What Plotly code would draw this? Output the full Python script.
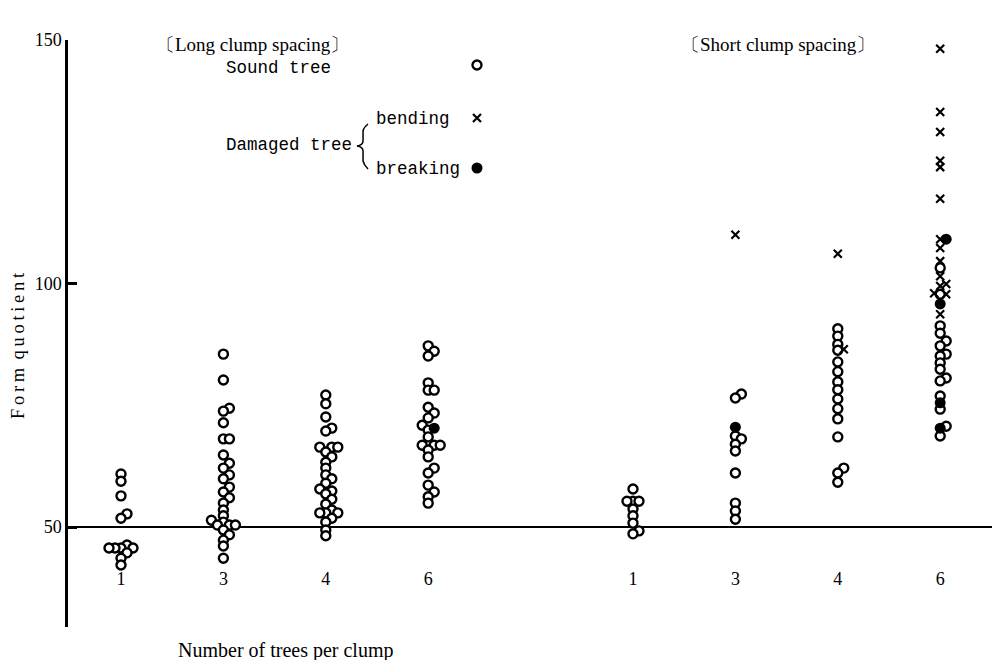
import plotly.graph_objects as go

# ---------------- data: form quotient of trees, by clump size ----------------
clump_sizes = ["1", "3", "4", "6"]
spacing_titles = ["〔Long clump spacing〕", "〔Short clump spacing〕"]

# long clump spacing
long_sound_1 = [60.9, 59.4, 56.4, 52.7, 51.8, 46.3, 45.7, 45.7, 45.7, 45.7, 44.7, 43.6, 42.2]
long_sound_3 = [85.5, 80.2, 74.4, 73.8, 71.4, 68.1, 68.1, 64.8, 63.1, 62.1, 60.7, 59.9, 58.2,
                57.2, 56.0, 54.9, 53.5, 52.3, 51.4, 51.0, 50.4, 50.4, 50.4, 49.4, 48.4, 47.3,
                46.1, 43.6]
long_sound_4 = [77.1, 75.3, 72.6, 70.3, 69.7, 66.4, 66.4, 66.4, 65.4, 64.4, 63.3, 62.1, 60.7,
                59.9, 59.0, 57.8, 57.4, 56.8, 55.7, 54.7, 53.5, 52.9, 52.9, 52.9, 51.8, 51.0,
                49.4, 48.2]
long_sound_6 = [87.2, 86.1, 85.1, 79.6, 78.1, 78.1, 74.6, 73.4, 72.4, 70.9, 69.9, 68.5, 66.8,
                66.8, 66.8, 65.8, 64.4, 62.1, 61.1, 58.6, 57.2, 56.2, 54.9]
long_breaking_6 = [70.3]

# short clump spacing
short_sound_1 = [57.8, 55.3, 55.3, 55.3, 53.7, 52.3, 50.8, 49.2, 48.6]
short_sound_3 = [77.3, 76.5, 68.7, 68.1, 67.0, 65.6, 61.1, 54.9, 53.3, 51.6]
short_bending_3 = [110.0]
short_breaking_3 = [70.5]
short_sound_4 = [90.7, 89.2, 87.5, 86.3, 83.9, 81.9, 79.8, 78.2, 76.3, 74.3, 72.2, 68.5,
                 62.1, 61.1, 59.2]
short_bending_4 = [106.1, 86.5]
short_sound_6 = [103.2, 97.8, 91.3, 89.8, 88.2, 87.2, 85.5, 85.1, 83.7, 82.4, 80.6, 80.0,
                 76.9, 74.2, 70.7, 68.7]
short_bending_6 = [148.2, 135.2, 131.1, 125.2, 123.9, 117.4, 109.1, 107.3, 104.6, 101.5,
                   99.9, 99.5, 97.8, 98.0, 93.7]
short_breaking_6 = [109.1, 95.8, 75.5, 70.3]

# (slot on the x axis, sound, bending, breaking)
groups = [
    (0, long_sound_1, [], []),
    (1, long_sound_3, [], []),
    (2, long_sound_4, [], []),
    (3, long_sound_6, [], long_breaking_6),
    (5, short_sound_1, [], []),
    (6, short_sound_3, short_bending_3, short_breaking_3),
    (7, short_sound_4, short_bending_4, []),
    (8, short_sound_6, short_bending_6, short_breaking_6),
]

# ---------------- layout geometry ----------------
W, H = 992, 660
ML, MR, MT, MB = 68, 0, 40, 33
x_range = [-0.5176, 8.506]
y_range = [29.47, 150.0]
pw, ph = W - ML - MR, H - MT - MB
px_per_x = pw / (x_range[1] - x_range[0])
px_per_y = ph / (y_range[1] - y_range[0])


def paper_x(px):
    return (px - ML) / pw


def paper_y(py):
    return (H - MB - py) / ph


def swarm(values, min_dist=5.5, step=6.0):
    """Horizontal offsets (x units) so that overlapping dots spread sideways."""
    order = sorted(range(len(values)), key=lambda i: values[i])
    placed, offs = [], [0.0] * len(values)
    cands = [0.0] + [s * j * step for j in range(1, 8) for s in (1, -1)]
    for i in order:
        yp = values[i] * px_per_y
        chosen = cands[-1]
        for c in cands:
            if all((c - a) ** 2 + (yp - b) ** 2 >= min_dist ** 2 for a, b in placed):
                chosen = c
                break
        placed.append((chosen, yp))
        offs[i] = chosen / px_per_x
    return offs


styles = {
    "sound": dict(symbol="circle", size=9, color="white", line=dict(color="black", width=2.4)),
    "bending": dict(symbol="x-thin", size=8, color="black", line=dict(color="black", width=2.2)),
    "breaking": dict(symbol="circle", size=11, color="black", line=dict(width=0)),
}

fig = go.Figure()

for slot, sound, bending, breaking in groups:
    vals = list(sound) + list(bending) + list(breaking)
    kinds = ["sound"] * len(sound) + ["bending"] * len(bending) + ["breaking"] * len(breaking)
    offs = swarm(vals)
    for kind in ("sound", "bending", "breaking"):
        xs = [slot + o for o, k in zip(offs, kinds) if k == kind]
        ys = [v for v, k in zip(vals, kinds) if k == kind]
        if not ys:
            continue
        fig.add_trace(go.Scatter(x=xs, y=ys, mode="markers", marker=styles[kind],
                                 showlegend=False, hoverinfo="y", cliponaxis=False))

# key symbols next to the key texts
key_rows = [("sound", 65), ("bending", 118), ("breaking", 168)]
for kind, py in key_rows:
    fig.add_trace(go.Scatter(
        x=[(477 - ML) / px_per_x + x_range[0]],
        y=[y_range[0] + (H - MB - py) / px_per_y],
        mode="markers", marker=styles[kind], showlegend=False, hoverinfo="skip"))

serif = "Liberation Serif, Times New Roman, serif"
mono = "Liberation Mono, Courier New, monospace"

annotations = []


def label(text, px, py, font, size, xanchor="left", angle=0):
    annotations.append(dict(text=text, x=paper_x(px), y=paper_y(py), xref="paper", yref="paper",
                            xanchor=xanchor, yanchor="middle", showarrow=False, textangle=angle,
                            font=dict(family=font, size=size, color="black")))


label(spacing_titles[0], 154, 44, serif, 19)
label(spacing_titles[1], 679, 44, serif, 19)
label("Sound tree", 224, 68, mono, 17.5)
label("bending", 374, 119, mono, 17.5)
label("Damaged tree", 224, 145, mono, 17.5)
label("breaking", 374, 169, mono, 17.5)
label("Number of trees per clump", 285, 650, serif, 20, xanchor="center")
label("F\u2009o\u2009r\u2009m\u2009 q\u2009u\u2009o\u2009t\u2009i\u2009e\u2009n\u2009t",
      18, 346, serif, 18.5, xanchor="center", angle=-90)

# curly brace joining the two kinds of damage
bx = [368, 364, 363, 363, 357, 363, 363, 364, 368]
by = [124, 127, 131, 141, 146, 151, 161, 165, 169]
path = "M {:.4f},{:.4f}".format(paper_x(bx[0]), paper_y(by[0]))
path += " Q {:.4f},{:.4f} {:.4f},{:.4f}".format(paper_x(bx[1]), paper_y(by[1]), paper_x(bx[2]), paper_y(by[2]))
path += " L {:.4f},{:.4f}".format(paper_x(bx[3]), paper_y(by[3]))
path += " Q {:.4f},{:.4f} {:.4f},{:.4f}".format(paper_x(363), paper_y(145), paper_x(bx[4]), paper_y(by[4]))
path += " Q {:.4f},{:.4f} {:.4f},{:.4f}".format(paper_x(363), paper_y(147), paper_x(bx[5]), paper_y(by[5]))
path += " L {:.4f},{:.4f}".format(paper_x(bx[6]), paper_y(by[6]))
path += " Q {:.4f},{:.4f} {:.4f},{:.4f}".format(paper_x(bx[7]), paper_y(by[7]), paper_x(bx[8]), paper_y(by[8]))

shapes = [
    dict(type="line", xref="paper", yref="y", x0=0, x1=1, y0=50, y1=50,
         line=dict(color="black", width=2), layer="below"),
    dict(type="path", xref="paper", yref="paper", path=path,
         line=dict(color="black", width=1.5)),
]

fig.update_layout(
    width=W, height=H,
    margin=dict(l=ML, r=MR, t=MT, b=MB, pad=0),
    paper_bgcolor="white", plot_bgcolor="white",
    showlegend=False,
    annotations=annotations,
    shapes=shapes,
    xaxis=dict(range=x_range, showgrid=False, zeroline=False, showline=False,
               tickvals=[g[0] for g in groups], ticktext=clump_sizes * 2, ticks="",
               anchor="free", position=paper_y(566),
               tickfont=dict(family=serif, size=18, color="black")),
    yaxis=dict(range=y_range, showgrid=False, zeroline=False, showline=True,
               linecolor="black", linewidth=2.5, ticks="inside", ticklen=9, tickwidth=2.5,
               tickcolor="black", tickvals=[50, 100, 150], ticktext=["50", "100", "150"],
               tickfont=dict(family=serif, size=18, color="black")),
)

fig.write_html("out.html")
